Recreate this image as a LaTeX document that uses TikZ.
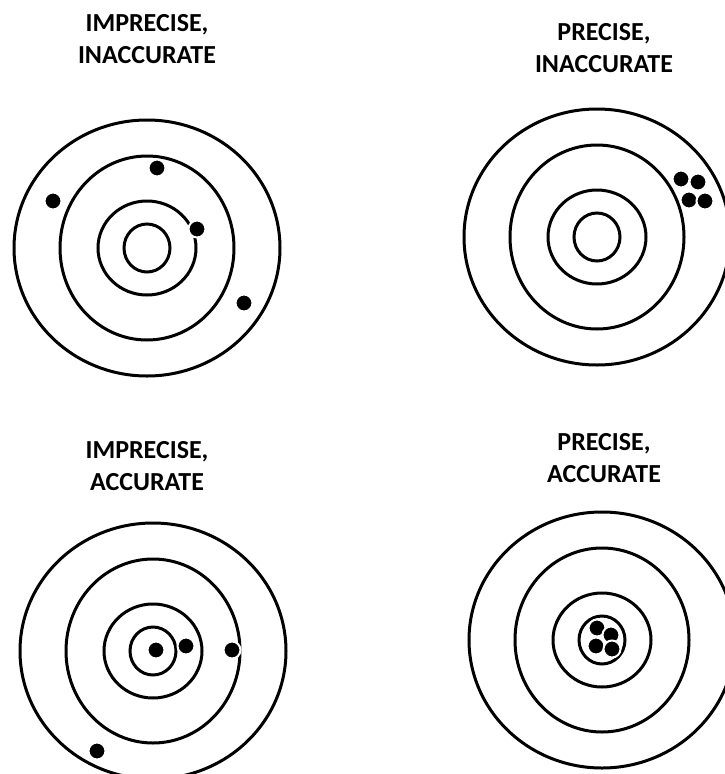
\documentclass[tikz,border=0pt]{standalone}
\usepackage{fontspec}
\setmainfont{Carlito}
\usetikzlibrary{positioning}

\begin{document}
\begin{tikzpicture}[
      x=1pt, y=-1pt,
      ring/.style={line width=3pt},
      hit/.style={fill=black, draw=white, line width=2pt},
      title/.style={font=\fontsize{26}{31.5}\selectfont\bfseries, align=center, inner sep=0pt}
    ]
    \useasboundingbox (0,0) rectangle (725,774);
    \clip (0,0) rectangle (725,774);

    \node[title] (t1) at (147,39) {IMPRECISE,\\INACCURATE};
    \node[title] (t2) at (604,48) {PRECISE,\\INACCURATE};
    \node[title] (t3) at (147,466) {IMPRECISE,\\ACCURATE};
    \node[title] (t4) at (604,458) {PRECISE,\\ACCURATE};

    \coordinate (c1) at (147,248);
    \coordinate (c2) at (597,237);
    \coordinate (c3) at (153,651);
    \coordinate (c4) at (602,640);

    \foreach \c in {c1,c2,c3,c4}
      \foreach \rx/\ry in {133/128,87/92,49/47,23/24}
        \draw[ring] (\c) ellipse [x radius=\rx, y radius=\ry];

    % imprecise, inaccurate
    \foreach \p in {(157,168),(53,201),(197,229),(244,303)}
      \draw[hit] \p circle [radius=8.5];
    % precise, inaccurate
    \foreach \p in {(681,179),(698,182),(689,200),(705,201)}
      \draw[hit] \p circle [radius=8.5];
    % imprecise, accurate
    \foreach \p in {(156,650),(186,646),(232,650),(97,751)}
      \draw[hit] \p circle [radius=8.5];
    % precise, accurate
    \foreach \p in {(597,628),(611,635),(596,646),(612,649)}
      \draw[hit] \p circle [radius=8.5];
  \end{tikzpicture}
\end{document}
